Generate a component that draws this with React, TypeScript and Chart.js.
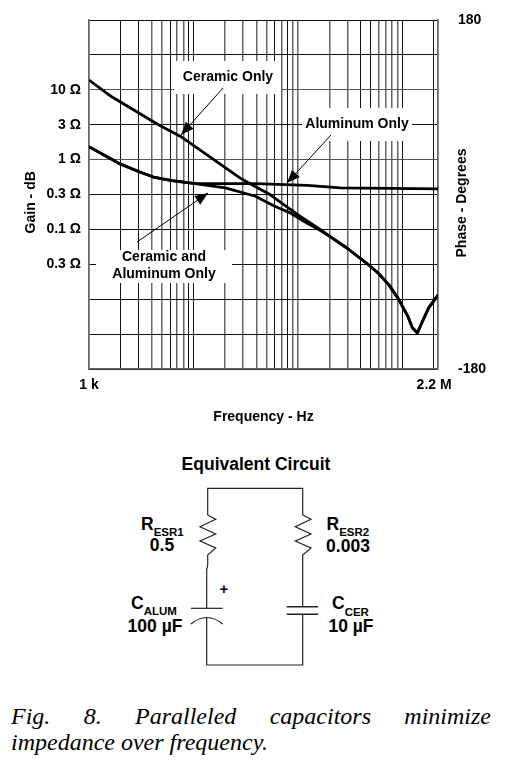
import React, { useEffect, useRef } from 'react';
import { Chart, registerables } from 'chart.js';

Chart.register(...registerables);

// Frequency gridlines in Hz, 1-2-3..9 per decade up to 2 MHz
const freqGrid = [
  1000, 2000, 3000, 4000, 5000, 6000, 7000, 8000, 9000,
  10000, 20000, 30000, 40000, 50000, 60000, 70000, 80000, 90000,
  100000, 200000, 300000, 400000, 500000, 600000, 700000, 800000, 900000,
  1000000, 2000000, 2200000,
];
const freqLabelValues = [1000, 2200000];
const freqLabels = ['1 k', '2.2 M  '];

const gainGrid = [40, 30, 20, 10, 0, -10, -20, -30, -40, -50, -60];
const gainTickValues = [20, 10, 0, -10, -20, -30];
const gainTickLabels = ['10 Ω', '3 Ω', '1 Ω', '0.3 Ω', '0.1 Ω', '0.3 Ω'];
const phaseTicks = [-180, 180];

const ceramicFreq = [1000, 1651, 4624, 7470, 14490, 28100, 36400, 54600, 73300, 102100, 164800, 202300, 297200, 478600, 597000, 745000, 909800, 1135000, 1250000, 1396000, 1560000, 1791000, 2200000];
const ceramicGain = [22.8, 18, 10, 6.7, 0.7, -5.3, -7.2, -10.1, -12.9, -16, -20.1, -22, -25.4, -30.2, -32.7, -35.9, -39.7, -45, -48.2, -49.7, -46.4, -42.5, -38.8];

const aluminumFreq = [1000, 1910, 2973, 4140, 6220, 10400, 39300, 123000, 256000, 2200000];
const aluminumGain = [3.7, -1, -3.4, -5, -6, -6.9, -6.9, -7.4, -8.1, -8.4];

const bothFreq = [1000, 1910, 2973, 4140, 6220, 10400, 20200, 39300, 58700, 84900, 114000, 164800, 202300, 297200, 478600, 597000, 745000, 909800, 1135000, 1250000, 1396000, 1560000, 1791000, 2200000];
const bothGain = [3.7, -1, -3.4, -5, -6, -6.9, -8.1, -10.5, -13.2, -15.3, -17.7, -20.3, -22, -25.4, -30.2, -32.7, -35.9, -39.7, -45, -48.2, -49.7, -46.4, -42.5, -38.8];

const toPoints = (xs: number[], ys: number[]) => xs.map((x, i) => ({ x, y: ys[i] }));

const FONT = '"Liberation Sans", Arial, sans-serif';

// the scan shows some gridlines darker and thinner than the others
const darkFreqLines = [2000, 3000, 6000, 9000, 10000, 60000, 80000, 400000, 500000, 1000000, 2000000];
const greyGainLines = [20, 0];

const arrow = (ctx: CanvasRenderingContext2D, x0: number, y0: number, x1: number, y1: number) => {
  const a = Math.atan2(y1 - y0, x1 - x0);
  ctx.strokeStyle = '#000';
  ctx.lineWidth = 1;
  ctx.beginPath();
  ctx.moveTo(x0, y0);
  ctx.lineTo(x1, y1);
  ctx.stroke();
  ctx.fillStyle = '#000';
  ctx.beginPath();
  ctx.moveTo(x1, y1);
  ctx.lineTo(x1 - 14 * Math.cos(a - 0.38), y1 - 14 * Math.sin(a - 0.38));
  ctx.lineTo(x1 - 14 * Math.cos(a + 0.38), y1 - 14 * Math.sin(a + 0.38));
  ctx.closePath();
  ctx.fill();
};

// white label boxes go over the grid but under the curves
const notesPlugin = {
  id: 'notes',
  beforeDatasetsDraw(chart: Chart) {
    const ctx = chart.ctx;
    ctx.save();
    ctx.fillStyle = '#fff';
    ctx.fillRect(174, 61, 107, 33);
    ctx.fillRect(302, 108, 110, 33);
    ctx.fillRect(96, 250, 136, 33);
    ctx.fillStyle = '#000';
    ctx.font = `bold 14px ${FONT}`;
    ctx.textAlign = 'center';
    ctx.textBaseline = 'middle';
    ctx.fillText('Ceramic Only', 228, 77);
    ctx.fillText('Aluminum Only', 357, 124.5);
    ctx.fillText('Ceramic and', 164, 257.5);
    ctx.fillText('Aluminum Only', 164, 274);
    ctx.restore();
  },
  afterDraw(chart: Chart) {
    const ctx = chart.ctx;
    ctx.save();
    arrow(ctx, 223, 88, 181, 135);
    arrow(ctx, 331, 135, 287, 183);
    arrow(ctx, 137, 242, 208, 193);
    // right axis title reads bottom to top, chart.js only flips it the other way
    ctx.translate(462, 203);
    ctx.rotate(-Math.PI / 2);
    ctx.fillStyle = '#000';
    ctx.font = `bold 14px ${FONT}`;
    ctx.textAlign = 'center';
    ctx.textBaseline = 'middle';
    ctx.fillText('Phase - Degrees', 0, 0);
    ctx.restore();
  },
};

const Circuit: React.FC = () => {
  const bold = { fontFamily: FONT, fontWeight: 700, fill: '#000' };
  return (
    <svg width={508} height={240} viewBox="0 440 508 240" style={{ position: 'absolute', left: 0, top: 440 }}>
      <text x={256} y={470} textAnchor="middle" fontSize={17.5} {...bold}>Equivalent Circuit</text>
      <g fill="none" stroke="#222" strokeWidth={1.2}>
        <path d="M207.7 515V488.3H302.7V515" />
        <path d="M207.7 515L215.7 519.3L200 526.7L215.7 534L200 541L215.7 548L207.7 555V565L206.7 570V608" />
        <path d="M302.7 515L311 519.3L295.3 526.7L311 534L295.3 541L311 548L302.7 555V606.7" />
        <path d="M191 608.3H222.7" />
        <path d="M191 624Q206.7 611 222.7 624" />
        <path d="M206.7 617.7V665H302.7V614.3" />
        <path d="M286.7 606.7H318.3M286.7 614.3H318.3" strokeWidth={1.4} />
      </g>
      <text x={141} y={530} fontSize={17.5} {...bold}>R<tspan fontSize={11.5} dy={6}>ESR1</tspan></text>
      <text x={162} y={551} textAnchor="middle" fontSize={17.5} {...bold}>0.5</text>
      <text x={326.5} y={530} fontSize={17.5} {...bold}>R<tspan fontSize={11.5} dy={6}>ESR2</tspan></text>
      <text x={348} y={552} textAnchor="middle" fontSize={17.5} {...bold}>0.003</text>
      <text x={224} y={594} textAnchor="middle" fontSize={15} {...bold}>+</text>
      <text x={131} y={609} fontSize={17.5} {...bold}>C<tspan fontSize={11.5} dy={6}>ALUM</tspan></text>
      <text x={155} y={632} textAnchor="middle" fontSize={17.5} {...bold}>100 µF</text>
      <text x={332} y={609} fontSize={17.5} {...bold}>C<tspan fontSize={11.5} dy={7}>CER</tspan></text>
      <text x={351} y={632} textAnchor="middle" fontSize={17.5} {...bold}>10 µF</text>
    </svg>
  );
};

const App: React.FC = () => {
  const chartRef = useRef<HTMLCanvasElement | null>(null);

  useEffect(() => {
    if (!chartRef.current) return;

    const curve = (label: string, xs: number[], ys: number[]) => ({
      label,
      data: toPoints(xs, ys),
      borderColor: '#000',
      borderWidth: 2.8,
      pointRadius: 0,
      tension: 0,
      borderJoinStyle: 'round' as const,
      xAxisID: 'x',
      yAxisID: 'y',
    });
    const tickFont = { family: FONT, size: 14, weight: 'bold' as const };

    const chart = new Chart(chartRef.current, {
      type: 'line',
      data: {
        datasets: [
          curve('Aluminum Only', aluminumFreq, aluminumGain),
          curve('Ceramic and Aluminum Only', bothFreq, bothGain),
          curve('Ceramic Only', ceramicFreq, ceramicGain),
        ],
      },
      plugins: [notesPlugin],
      options: {
        responsive: false,
        animation: false,
        layout: { padding: { top: 20, left: 0, right: 0, bottom: 0 } },
        plugins: { legend: { display: false }, tooltip: { enabled: false } },
        scales: {
          x: {
            type: 'logarithmic',
            min: 1000,
            max: 2200000,
            afterBuildTicks: (s: any) => { s.ticks = freqGrid.map((value) => ({ value })); },
            afterFit: (s: any) => { s.height = 61; },
            grid: {
              color: (c: any) => (darkFreqLines.includes(c.tick?.value) ? '#111' : '#666'),
              lineWidth: (c: any) => (darkFreqLines.includes(c.tick?.value) ? 1 : 1.5),
              drawTicks: false,
            },
            border: { color: '#666', width: 1.5 },
            ticks: {
              autoSkip: false,
              maxRotation: 0,
              padding: 8,
              color: '#000',
              font: tickFont,
              callback: (v: any) => {
                const i = freqLabelValues.indexOf(Number(v));
                return i >= 0 ? freqLabels[i] : '';
              },
            },
            title: {
              display: true,
              text: 'Frequency - Hz',
              color: '#000',
              font: tickFont,
              padding: { top: 0, bottom: 4 },
            },
          },
          y: {
            type: 'linear',
            position: 'left',
            min: -60,
            max: 40,
            afterBuildTicks: (s: any) => { s.ticks = gainGrid.map((value) => ({ value })); },
            afterFit: (s: any) => { s.width = 89; s.paddingTop = 0; s.paddingBottom = 0; },
            grid: {
              color: (c: any) => (greyGainLines.includes(c.tick?.value) ? '#555' : '#111'),
              lineWidth: 1,
              drawTicks: false,
            },
            border: { color: '#666', width: 1.5 },
            ticks: {
              padding: 8,
              color: '#000',
              font: tickFont,
              callback: (v: any) => {
                const i = gainTickValues.indexOf(Number(v));
                return i >= 0 ? gainTickLabels[i] : '';
              },
            },
            title: {
              display: true,
              text: 'Gain - dB    ',
              color: '#000',
              font: tickFont,
              padding: { top: 23, bottom: 0 },
            },
          },
          y1: {
            type: 'linear',
            position: 'right',
            min: -180,
            max: 180,
            afterBuildTicks: (s: any) => { s.ticks = phaseTicks.map((value) => ({ value })); },
            afterFit: (s: any) => { s.width = 70; s.paddingTop = 0; s.paddingBottom = 0; },
            grid: { display: false, drawTicks: false },
            border: { color: '#666', width: 1.5 },
            ticks: { padding: 20, color: '#000', font: tickFont },
          },
        },
      },
    } as any);

    return () => {
      chart.destroy();
    };
  }, []);

  const caption = {
    position: 'absolute' as const,
    left: 11,
    width: 480,
    fontFamily: '"Liberation Serif", serif',
    fontStyle: 'italic',
    fontSize: 24,
    lineHeight: '26px',
    color: '#000',
  };

  return (
    <div style={{ position: 'absolute', left: 0, top: 0, width: 508, height: 769, background: '#fff', overflow: 'hidden' }}>
      <canvas ref={chartRef} width={508} height={430} style={{ position: 'absolute', left: 0, top: 0, width: 508, height: 430 }} />
      <Circuit />
      <div style={{ ...caption, top: 703, textAlign: 'justify', textAlignLast: 'justify' }}>
        Fig. 8. Paralleled capacitors minimize
      </div>
      <div style={{ ...caption, top: 729 }}>impedance over frequency.</div>
    </div>
  );
};

export default App;
